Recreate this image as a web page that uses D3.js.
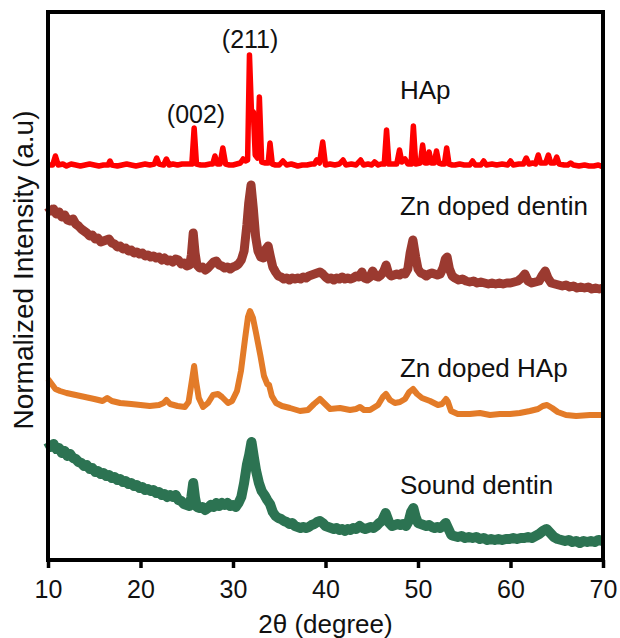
<!DOCTYPE html>
<html>
<head>
<meta charset="utf-8">
<script src="https://cdn.jsdelivr.net/npm/d3@7"></script>
<style>
  html, body { margin: 0; padding: 0; background: #fff; }
  svg { display: block; font-family: "Liberation Sans", Arial, Helvetica, sans-serif; }
</style>
</head>
<body>
<svg id="chart" width="620" height="638"></svg>
<script>
// XRD patterns, stacked: 2θ (degree) vs intensity (a.u., each pattern above its own offset)
const xTicks = [10, 20, 30, 40, 50, 60, 70];
const seriesNames = ["HAp", "Zn doped dentin", "Zn doped HAp", "Sound dentin"];
const offsets = [390, 265, 140, 15];
const seriesLabelLevels = [461, 345, 183, 66];
const seriesLabelTheta = 48.05;
const peakLabels = ["(002)", "(211)"];
const peakLabelTheta = [26.0, 31.85];
const peakLabelLevels = [47, 122];

const hap = [
  [10.0,5],[10.5,5],[10.8,14],[11.1,5],[11.6,6],[12.0,4],[12.5,6],[13.0,5],[13.5,4],[14.0,5],[14.5,6],[15.0,5],[15.5,4],[16.0,5],
  [16.5,5],[16.7,9],[16.9,5],[17.5,4],[18.0,5],[18.5,6],[19.0,5],[19.5,4],[20.0,5],[20.5,6],[21.0,5],[21.5,6],[21.75,12],[22.0,6],
  [22.5,5],[22.8,11],[23.1,5],[23.5,6],[24.0,5],[24.5,6],[25.0,6],[25.55,6],[25.8,42],[26.05,6],[26.5,5],[27.0,5],[27.5,6],[27.8,6],
  [28.05,14],[28.3,6],[28.6,6],[28.9,22],[29.2,6],[29.6,5],[30.0,5],[30.4,6],[30.8,7],[31.1,11],[31.35,9],[31.58,10],[31.78,115],
  [32.0,57],[32.2,58],[32.4,15],[32.65,12],[32.85,73],[33.1,8],[33.5,7],[33.8,7],[34.0,27],[34.25,6],[34.6,5],[35.0,5],[35.4,9],
  [35.8,5],[36.3,6],[37.0,4],[37.5,5],[38.0,5],[38.5,6],[38.8,6],[39.05,10],[39.35,7],[39.7,28],[40.0,5],[40.5,6],[41.0,5],[41.5,6],
  [41.9,10],[42.2,5],[42.8,6],[43.3,5],[43.8,10],[44.1,5],[44.6,6],[45.0,5],[45.3,8],[45.7,5],[46.0,6],[46.35,6],[46.6,40],[46.85,6],
  [47.3,6],[47.7,6],[48.0,20],[48.25,8],[48.6,11],[48.9,6],[49.25,6],[49.5,44],[49.75,6],[50.25,7],[50.5,25],[50.75,7],[51.0,7],
  [51.2,18],[51.45,7],[51.75,7],[52.0,19],[52.25,7],[52.6,6],[52.85,6],[53.1,22],[53.35,6],[53.7,5],[54.0,5],[54.5,6],[55.0,5],
  [55.6,5],[55.9,9],[56.2,5],[56.8,5],[57.1,9],[57.4,5],[58.0,6],[58.5,5],[59.1,6],[59.7,5],[60.0,9],[60.3,5],[60.9,6],[61.4,6],
  [61.7,12],[62.0,6],[62.4,7],[62.7,6],[63.0,15],[63.25,7],[63.8,7],[64.1,15],[64.35,7],[64.75,7],[65.0,13],[65.25,6],[65.8,5],
  [66.2,5],[66.5,7],[66.8,5],[67.4,4],[68.0,5],[68.5,4],[69.0,4],[69.5,5],[70.0,3]
];

const znDentin = [
  [10.0,88],[10.3,84],[10.6,86],[10.9,81],[11.2,83],[11.5,78],[11.8,80],[12.1,75],[12.4,74],[12.7,76],[13.0,71],[13.3,69],[13.6,66],
  [13.9,64],[14.2,62],[14.5,59],[14.8,60],[15.1,56],[15.4,57],[15.7,53],[16.0,54],[16.3,55],[16.6,56],[16.9,52],[17.2,51],[17.5,48],
  [17.8,49],[18.1,46],[18.4,47],[18.7,44],[19.0,45],[19.3,42],[19.6,43],[19.9,41],[20.2,42],[20.5,39],[20.8,40],[21.1,38],[21.4,39],
  [21.7,37],[22.0,38],[22.3,35],[22.6,37],[22.9,34],[23.2,35],[23.5,33],[23.8,36],[24.1,35],[24.4,31],[24.7,32],[25.0,29],[25.3,30],
  [25.5,40],[25.7,62],[25.9,42],[26.1,30],[26.4,27],[26.7,28],[27.0,25],[27.3,27],[27.6,30],[27.9,33],[28.2,34],[28.5,30],[28.8,29],
  [29.1,27],[29.4,28],[29.7,26],[30.0,28],[30.3,29],[30.6,31],[30.9,35],[31.2,44],[31.5,70],[31.7,92],[31.95,110],[32.2,86],[32.45,58],
  [32.7,44],[33.0,38],[33.3,37],[33.55,46],[33.8,49],[34.05,38],[34.3,28],[34.6,23],[34.9,19],[35.2,18],[35.5,16],[35.8,17],[36.1,15],
  [36.4,17],[36.7,16],[37.0,17],[37.3,16],[37.6,18],[37.9,17],[38.2,19],[38.5,20],[38.8,21],[39.1,22],[39.4,23],[39.7,21],[40.0,18],
  [40.3,16],[40.6,17],[40.9,15],[41.2,17],[41.5,16],[41.8,18],[42.1,16],[42.4,17],[42.7,16],[43.0,17],[43.3,19],[43.6,18],[43.95,23],
  [44.2,17],[44.5,16],[44.8,18],[45.1,24],[45.4,19],[45.7,18],[46.0,20],[46.3,24],[46.55,30],[46.8,22],[47.1,19],[47.4,20],[47.7,21],
  [48.0,20],[48.3,22],[48.6,21],[48.9,26],[49.15,42],[49.45,55],[49.75,38],[50.0,26],[50.3,22],[50.6,21],[50.9,19],[51.2,21],[51.5,22],
  [51.8,21],[52.1,20],[52.4,21],[52.7,27],[52.95,36],[53.15,38],[53.4,26],[53.7,19],[54.0,17],[54.4,15],[54.8,16],[55.2,14],[55.6,13],
  [56.0,14],[56.4,12],[56.8,13],[57.2,12],[57.6,11],[58.0,12],[58.4,11],[58.8,12],[59.2,11],[59.6,12],[60.0,12],[60.4,13],[60.8,14],
  [61.2,17],[61.55,21],[61.9,14],[62.3,12],[62.7,13],[63.1,14],[63.45,20],[63.75,24],[64.05,17],[64.4,12],[64.8,11],[65.2,10],[65.6,9],
  [66.0,10],[66.4,8],[66.8,9],[67.2,7],[67.6,8],[68.0,7],[68.4,8],[68.8,6],[69.2,7],[69.6,6],[70.0,7]
];

const znHap = [
  [10.0,41],[10.4,36],[10.8,31],[11.3,29],[12.0,27],[13.0,25],[14.0,23],[15.0,21],[15.9,19],[16.4,22],[16.9,19],[17.8,17],[19.0,16],
  [20.0,15],[21.0,14],[22.0,15],[22.5,17],[22.8,20],[23.2,16],[24.0,14],[24.8,13],[25.2,18],[25.55,39],[25.8,54],[26.0,39],[26.3,22],
  [26.76,13],[27.3,17],[27.84,25],[28.38,26],[28.81,23],[29.46,17],[29.9,19],[30.43,29],[30.86,49],[31.3,81],[31.62,103],[31.84,109],
  [32.16,102],[32.49,87],[32.97,64],[33.35,44],[33.7,36],[33.9,35],[34.2,24],[34.65,17],[35.3,14],[36.16,12],[37.24,9],[38.1,10],
  [38.76,16],[39.4,21],[39.95,16],[40.5,11],[41.57,12],[42.65,10],[43.3,11],[43.73,13],[44.16,10],[44.81,10],[45.68,15],[46.2,23],
  [46.54,26],[46.97,20],[47.5,17],[48.05,18],[48.6,21],[49.05,28],[49.46,31],[49.9,26],[50.43,22],[51.3,19],[52.16,15],[52.6,16],
  [53.03,21],[53.24,18],[53.57,9],[54.3,6],[55.6,6],[56.7,7],[57.78,5],[58.86,6],[59.95,6],[61.0,7],[62.1,9],[62.97,11],[63.5,14],
  [63.95,15],[64.5,12],[65.1,8],[66.0,5],[67.1,4],[68.6,5],[70.0,5]
];

const soundDentin = [
  [10.0,103],[10.3,98],[10.6,101],[10.9,96],[11.2,97],[11.5,92],[11.8,94],[12.1,89],[12.4,91],[12.7,87],[13.0,86],[13.3,83],[13.6,82],
  [13.9,79],[14.2,80],[14.5,76],[14.8,77],[15.1,73],[15.4,74],[15.7,71],[16.0,72],[16.3,69],[16.6,70],[16.9,67],[17.2,68],[17.5,65],
  [17.8,66],[18.1,63],[18.4,64],[18.7,61],[19.0,62],[19.3,59],[19.6,60],[19.9,57],[20.2,58],[20.5,55],[20.8,56],[21.1,54],[21.4,55],
  [21.7,52],[22.0,53],[22.3,50],[22.6,51],[22.9,48],[23.2,50],[23.5,48],[23.8,50],[24.1,45],[24.4,44],[24.7,41],[25.0,40],[25.3,39],
  [25.5,48],[25.7,62],[25.9,47],[26.1,38],[26.4,37],[26.7,38],[27.0,35],[27.3,37],[27.6,40],[27.9,38],[28.2,42],[28.5,39],[28.8,42],
  [29.1,40],[29.4,42],[29.7,39],[30.0,40],[30.3,38],[30.6,42],[30.9,48],[31.2,62],[31.5,80],[31.75,90],[32.0,103],[32.25,88],[32.5,74],
  [32.8,62],[33.1,54],[33.4,50],[33.7,45],[34.0,41],[34.3,33],[34.6,29],[34.9,27],[35.2,26],[35.5,24],[35.8,23],[36.1,21],[36.4,22],
  [36.7,19],[37.0,18],[37.3,17],[37.6,18],[37.9,17],[38.2,18],[38.5,20],[38.8,21],[39.1,23],[39.4,24],[39.7,22],[40.0,19],[40.3,18],
  [40.6,17],[40.9,16],[41.2,17],[41.5,15],[41.8,16],[42.1,14],[42.4,16],[42.7,15],[43.0,17],[43.3,16],[43.7,19],[44.0,17],[44.3,16],
  [44.6,17],[44.9,18],[45.2,17],[45.5,19],[45.8,22],[46.1,24],[46.5,32],[46.9,22],[47.2,19],[47.5,20],[47.8,21],[48.1,20],[48.4,21],
  [48.7,19],[49.0,24],[49.25,33],[49.5,37],[49.75,28],[50.0,22],[50.3,21],[50.6,20],[50.9,19],[51.2,20],[51.5,18],[51.8,17],[52.1,18],
  [52.4,17],[52.7,19],[53.0,22],[53.3,16],[53.6,10],[53.9,9],[54.3,8],[54.7,9],[55.1,7],[55.5,8],[55.9,7],[56.3,8],[56.7,6],[57.1,7],
  [57.5,5],[57.9,6],[58.3,5],[58.7,6],[59.1,5],[59.5,6],[59.9,6],[60.3,7],[60.7,6],[61.1,7],[61.5,7],[61.9,8],[62.3,7],[62.7,9],
  [63.1,11],[63.5,14],[63.9,16],[64.3,12],[64.7,8],[65.1,6],[65.5,5],[65.9,4],[66.3,5],[66.7,3],[67.1,4],[67.5,2],[67.9,4],[68.3,3],
  [68.7,4],[69.1,3],[69.5,5],[70.0,4]
];

const seriesData = [hap, znDentin, znHap, soundDentin];
const colors = ["#ff0000", "#9b3a30", "#e37b28", "#2c7352"];
const strokeWidths = [5.5, 9, 6, 10];

const svg = d3.select("#chart");
const margin = { left: 48, right: 17, top: 12, bottom: 78 };
const W = 620, H = 638;

const x = d3.scaleLinear().domain([10, 70]).range([margin.left, W - margin.right]);
const y = d3.scaleLinear().domain([0, 548]).range([H - margin.bottom, margin.top]);

// pattern traces, each lifted by its offset
seriesData.forEach((data, i) => {
  const line = d3.line()
    .x(d => x(d[0]))
    .y(d => y(d[1] + offsets[i]));
  svg.append("path")
    .datum(data)
    .attr("d", line)
    .attr("fill", "none")
    .attr("stroke", colors[i])
    .attr("stroke-width", strokeWidths[i])
    .attr("stroke-linejoin", "round")
    .attr("stroke-linecap", "butt");
});

// plot frame
svg.append("rect")
  .attr("x", x(10)).attr("y", y(548))
  .attr("width", x(70) - x(10)).attr("height", y(0) - y(548))
  .attr("fill", "none").attr("stroke", "#000").attr("stroke-width", 4);

// x axis
const xAxis = d3.axisBottom(x).tickValues(xTicks).tickSize(8).tickPadding(12).tickFormat(d3.format("d"));
const gx = svg.append("g").attr("transform", `translate(0,${y(0)})`).call(xAxis);
gx.select(".domain").remove();
gx.selectAll(".tick line").attr("stroke", "#000").attr("stroke-width", 3.5);
gx.selectAll(".tick text").attr("fill", "#111").style("font-size", "25px")
  .style("font-family", "'Liberation Sans', Arial, sans-serif");

// axis titles
svg.append("text")
  .attr("x", (x(10) + x(70)) / 2).attr("y", 633)
  .attr("text-anchor", "middle").attr("fill", "#111")
  .style("font-size", "26px")
  .text("2θ (degree)");

svg.append("text")
  .attr("transform", `translate(33,270) rotate(-90)`)
  .attr("text-anchor", "middle").attr("fill", "#111")
  .style("font-size", "28px")
  .text("Normalized Intensity (a.u)");

// series names
seriesNames.forEach((name, i) => {
  svg.append("text")
    .attr("x", x(seriesLabelTheta)).attr("y", y(seriesLabelLevels[i]))
    .attr("fill", "#111").style("font-size", "26px")
    .text(name);
});

// reflection indices on the HAp pattern
peakLabels.forEach((lab, i) => {
  svg.append("text")
    .attr("x", x(peakLabelTheta[i])).attr("y", y(peakLabelLevels[i] + offsets[0]))
    .attr("text-anchor", "middle").attr("fill", "#111").style("font-size", "25px")
    .text(lab);
});
</script>
</body>
</html>
